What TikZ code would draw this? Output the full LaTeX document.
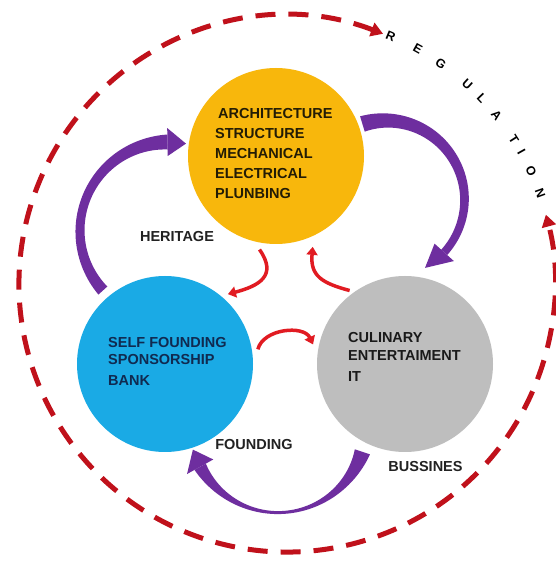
\documentclass[tikz,border=0pt]{standalone}
\usepackage{fontspec}
\setmainfont{Liberation Sans}
\usetikzlibrary{arrows.meta,calc}

\definecolor{ringred}{HTML}{C0111B}
\definecolor{arrowred}{HTML}{E11B22}
\definecolor{purp}{HTML}{6E2E9F}
\definecolor{techfill}{HTML}{F8B70C}
\definecolor{fundfill}{HTML}{1AAAE5}
\definecolor{bizfill}{HTML}{BEBEBE}
\definecolor{techtext}{HTML}{231C05}
\definecolor{fundtext}{HTML}{102A50}
\definecolor{biztext}{HTML}{1A1A1A}
\definecolor{labeltext}{HTML}{222222}

% Tapered curved arrow along a circular arc:
% #1 centre, #2 radius, #3 tail angle, #4 head-base angle, #5 tip angle,
% #6 width at tail, #7 width at middle, #8 width at head, #9 half width of head
\newcommand\bandarrow[9]{%
  \begin{scope}[shift={(#1)},
     declare function={tt(\q)=(\q-(#3))/((#4)-(#3));
       ww(\q)=(#6)*2*(tt(\q)-0.5)*(tt(\q)-1)-(#7)*4*tt(\q)*(tt(\q)-1)+(#8)*2*tt(\q)*(tt(\q)-0.5);}]
    \fill[purp] plot[domain=#3:#4,samples=60,variable=\ang] (\ang:{#2+0.5*ww(\ang)})
       -- plot[domain=#4:#3,samples=60,variable=\ang] (\ang:{#2-0.5*ww(\ang)}) -- cycle;
    \fill[purp] (#4:{#2-#9}) -- (#5:#2) -- (#4:{#2+#9}) -- cycle;
  \end{scope}}

\tikzset{
  disc/.style={circle, minimum size=176pt, inner sep=0pt, outer sep=0pt},
  intext/.style={align=left, anchor=north west, inner sep=0pt,
    font=\bfseries\fontsize{14.5}{20}\selectfont},
  lbl/.style={inner sep=0pt, text=labeltext, font=\bfseries\fontsize{14.5}{17}\selectfont},
  regletter/.style={inner sep=0pt, text=black, font=\bfseries\fontsize{12.5}{14}\selectfont},
  ringline/.style={draw=ringred, line width=5pt, dash pattern=on 20pt off 13pt,
    {Triangle[length=12pt,width=14pt]}-{Triangle[length=12pt,width=14pt]}},
  redarrow/.style={draw=arrowred, line width=3.5pt, -{Triangle[length=8pt,width=11pt]}}
}

\begin{document}
\begin{tikzpicture}[x=1pt,y=1pt]
\useasboundingbox[fill=white] (0,0) rectangle (555,563);

% regulation ring
\coordinate (ring) at (287,279);
\draw[ringline] ($(ring)+(69:268)$) arc[start angle=69, end angle=375, radius=268];
\foreach \ch/\an [count=\i] in {R/67.3,E/60.9,G/55.1,U/47.9,L/43.6,A/38.8,T/32.5,I/29.3,O/24.9,N/19.8}
  \node[regletter, rotate=\an-90] (reg\i) at ($(ring)+(\an:269)$) {\ch};

% the three domains
\node[disc, fill=techfill] (tech) at (276,407) {};
\node[disc, fill=fundfill] (fund) at (165,199) {};
\node[disc, fill=bizfill] (biz) at (405,199) {};

% outer cycle of purple arrows
\coordinate (arcL) at (169,332);
\coordinate (arcR) at (385.5,363.5);
\coordinate (arcB) at (278,139.4);
\bandarrow{arcL}{89}{222}{91}{79}{12}{9}{15}{14}
\bandarrow{arcR}{79}{107}{-42}{-60}{16}{10}{8}{13}
\bandarrow{arcB}{89}{-18.5}{-151}{-163}{16}{3}{13}{15}

% inner cycle of red arrows
\draw[redarrow] ($(tech)+(260:95)$) to[out=-55,in=15,looseness=1.5] ($(fund)+(48:94)$);
\draw[redarrow] ($(biz)+(127:92)$) to[out=165,in=-95,looseness=1.3] ($(tech)+(292:98)$);
\draw[redarrow] ($(fund)+(9:94)$) to[out=75,in=115] ($(biz)+(168:94)$);

% contents
\node[intext, text=techtext] (techlist) at ($(tech)+(-61,48)$)
  {\hspace*{3pt}ARCHITECTURE\\STRUCTURE\\MECHANICAL\\ELECTRICAL\\PLUNBING};
\node[intext, text=fundtext, font=\bfseries\fontsize{14.5}{17}\selectfont] (fundlist) at ($(fund)+(-57,27)$)
  {SELF FOUNDING\\SPONSORSHIP\\[4pt]BANK};
\node[intext, text=biztext, font=\bfseries\fontsize{14.5}{18}\selectfont] (bizlist) at ($(biz)+(-57,32)$)
  {CULINARY\\ENTERTAIMENT\\[3pt]IT};

% arrow labels
\node[lbl] (heritage) at (177,326) {HERITAGE};
\node[lbl] (founding) at (254,118) {FOUNDING};
\node[lbl] (bussines) at (425.5,96) {BUSSINES};
\end{tikzpicture}
\end{document}
